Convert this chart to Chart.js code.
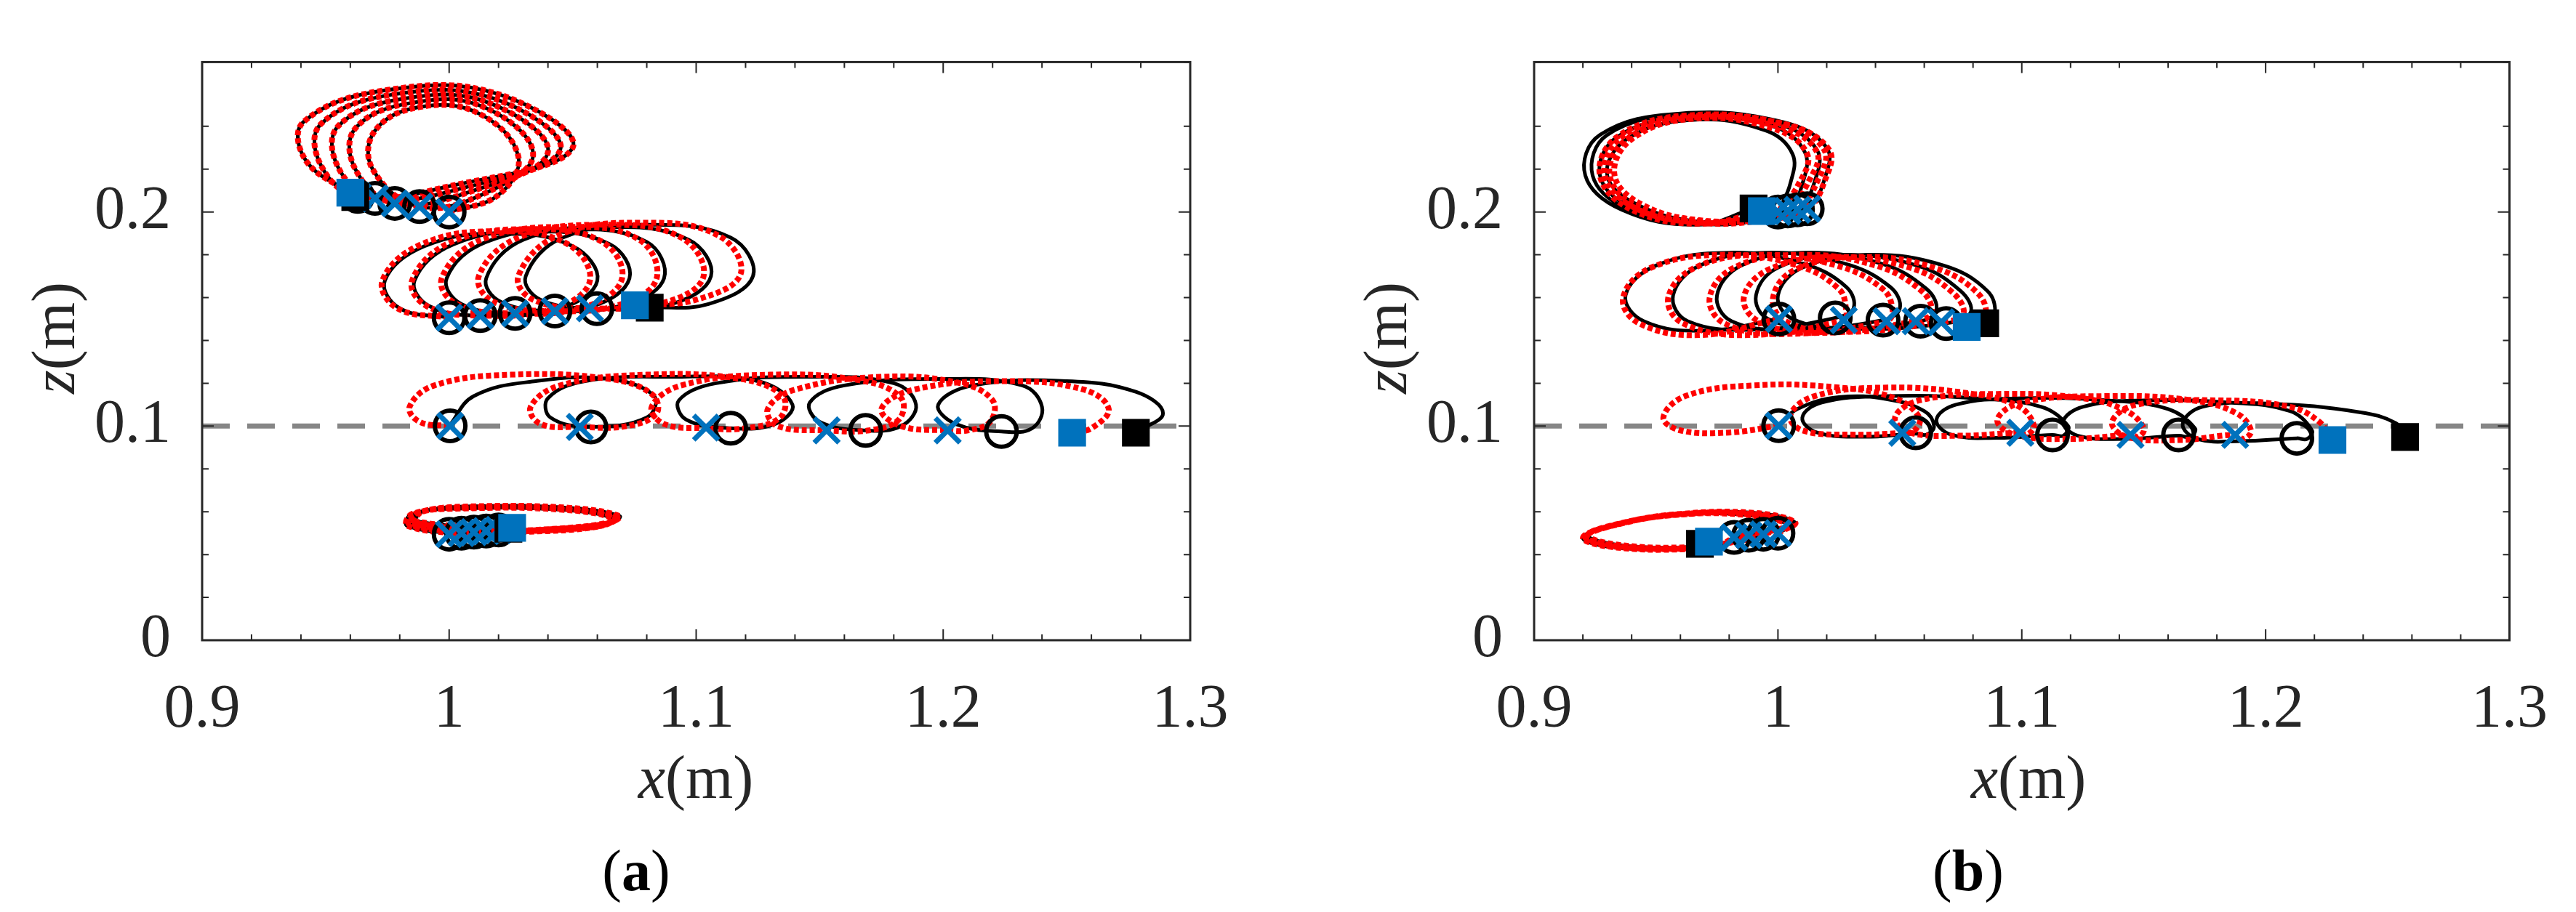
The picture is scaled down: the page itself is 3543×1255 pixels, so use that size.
<!DOCTYPE html>
<html>
<head>
<meta charset="utf-8">
<script src="https://cdn.jsdelivr.net/npm/chart.js@4.4.0/dist/chart.umd.min.js"></script>
<style>
body{margin:0;background:#fff;width:3543px;height:1255px;position:relative;overflow:hidden;font-family:"Liberation Serif","Times New Roman",serif;color:#262626}
.box{position:absolute;top:0;height:1255px}
.lbl{position:absolute;font-size:84px;line-height:1;white-space:nowrap;transform:translate(-50%,-50%)}
.rot{transform:translate(-50%,-50%) rotate(-90deg)}
.cap{color:#000;font-size:80px}
</style>
</head>
<body>
<div class="box" style="left:0;width:1771px"><canvas id="chartA"></canvas></div>
<div class="box" style="left:1771px;width:1772px"><canvas id="chartB"></canvas></div>
<div class="lbl" style="left:957px;top:1070px"><i>x</i>(m)</div>
<div class="lbl" style="left:2790px;top:1070px"><i>x</i>(m)</div>
<div class="lbl rot" style="left:74px;top:465px"><i>z</i>(m)</div>
<div class="lbl rot" style="left:1906px;top:465px"><i>z</i>(m)</div>
<div class="lbl cap" style="left:875px;top:1198px">(<b>a</b>)</div>
<div class="lbl cap" style="left:2707px;top:1198px">(<b>b</b>)</div>
<script>
// tick labels
var xTickLabels = [0.9, 1, 1.1, 1.2, 1.3];
var zTickLabels = [0, 0.1, 0.2];
var refLine = [[0.9, 0.1], [1.3, 0.1]];

// ---------- panel (a) ----------
var aTopBlack = [
  [1.000,0.200],[1.020,0.208],[1.028,0.226],[1.012,0.246],[0.988,0.249],[0.970,0.238],[0.969,0.220],
  [0.988,0.2025],[1.015,0.209],[1.034,0.227],[1.014,0.249],[0.985,0.251],[0.962,0.239],[0.962,0.220],
  [0.978,0.204],[1.010,0.210],[1.040,0.228],[1.016,0.251],[0.982,0.253],[0.955,0.240],[0.955,0.221],
  [0.970,0.2063],[1.005,0.211],[1.045,0.229],[1.018,0.253],[0.978,0.255],[0.948,0.241],[0.948,0.222],
  [0.963,0.2073],[1.000,0.212],[1.050,0.230],[1.020,0.255],[0.975,0.257],[0.941,0.242],[0.942,0.224],
  [0.961,0.208]
];
var aTopRed = aTopBlack;
var aTopCircles = [[1.000,0.200],[0.988,0.2025],[0.978,0.204],[0.970,0.2063],[0.963,0.2073]];
var aTopCrosses = [[1.000,0.200],[0.988,0.2025],[0.978,0.204],[0.970,0.2063],[0.963,0.2073]];
var aTopEnds = [[0.962,0.207],[0.960,0.209]];

var aMidBlack = [
  [1.000,0.1506],[0.980,0.155],[0.974,0.168],[0.990,0.184],[1.020,0.190],[1.050,0.184],[1.060,0.168],[1.045,0.155],
  [1.013,0.1516],[0.992,0.156],[0.986,0.168],[1.002,0.185],[1.035,0.191],[1.065,0.185],[1.073,0.169],[1.058,0.156],
  [1.027,0.1526],[1.005,0.157],[0.999,0.169],[1.015,0.186],[1.050,0.192],[1.080,0.186],[1.087,0.169],[1.072,0.157],
  [1.043,0.1537],[1.021,0.158],[1.015,0.169],[1.030,0.187],[1.065,0.193],[1.097,0.187],[1.106,0.170],[1.090,0.157],
  [1.060,0.1548],[1.037,0.159],[1.031,0.170],[1.046,0.188],[1.080,0.194],[1.114,0.188],[1.123,0.170],[1.105,0.157],
  [1.081,0.1553]
];
var aMidRed = [
  [1.000,0.1506],[0.979,0.155],[0.973,0.168],[0.989,0.185],[1.020,0.191],[1.048,0.185],[1.057,0.168],[1.043,0.155],
  [1.0126,0.1516],[0.991,0.156],[0.985,0.168],[1.001,0.186],[1.035,0.192],[1.062,0.186],[1.070,0.169],[1.056,0.156],
  [1.0267,0.1526],[1.003,0.157],[0.997,0.169],[1.013,0.187],[1.050,0.193],[1.077,0.187],[1.084,0.169],[1.070,0.157],
  [1.0428,0.1537],[1.018,0.158],[1.012,0.170],[1.028,0.188],[1.064,0.194],[1.094,0.188],[1.103,0.170],[1.088,0.158],
  [1.057,0.155],[1.034,0.159],[1.028,0.170],[1.044,0.189],[1.078,0.195],[1.109,0.189],[1.118,0.171],[1.100,0.159],
  [1.075,0.1564]
];
var aMidCircles = [[1.000,0.1506],[1.0126,0.1516],[1.0267,0.1526],[1.0428,0.1537],[1.0598,0.1548]];
var aMidCrosses = [[1.000,0.1506],[1.0126,0.1516],[1.0267,0.1526],[1.0428,0.1537],[1.057,0.155]];
var aMidEnds = [[1.0812,0.1553],[1.0752,0.1564]];

var aLowBlack = [
  [1.000,0.100],[1.010,0.114],[1.035,0.121],[1.065,0.122],[1.083,0.114],[1.080,0.104],
  [1.057,0.0996],[1.041,0.104],[1.040,0.113],[1.055,0.121],[1.090,0.123],[1.125,0.121],[1.139,0.110],[1.132,0.101],
  [1.114,0.099],[1.096,0.103],[1.093,0.112],[1.108,0.120],[1.145,0.123],[1.180,0.120],[1.189,0.110],[1.183,0.100],
  [1.1686,0.098],[1.150,0.102],[1.146,0.111],[1.160,0.119],[1.200,0.122],[1.232,0.119],[1.240,0.109],[1.236,0.099],
  [1.2236,0.0975],[1.205,0.101],[1.198,0.110],[1.212,0.119],[1.250,0.121],[1.278,0.116],[1.289,0.106],[1.278,0.097]
];
var aLowRed = [
  [1.000,0.100],[0.988,0.102],[0.984,0.109],[0.994,0.119],[1.025,0.124],[1.065,0.122],[1.082,0.115],[1.084,0.106],[1.072,0.100],
  [1.053,0.0996],[1.037,0.101],[1.033,0.109],[1.045,0.119],[1.080,0.124],[1.118,0.122],[1.135,0.114],[1.134,0.104],[1.120,0.099],
  [1.104,0.099],[1.087,0.101],[1.082,0.109],[1.094,0.119],[1.130,0.124],[1.168,0.121],[1.183,0.113],[1.182,0.103],[1.170,0.098],
  [1.153,0.098],[1.133,0.100],[1.129,0.108],[1.140,0.117],[1.175,0.123],[1.207,0.120],[1.220,0.112],[1.219,0.102],[1.210,0.098],
  [1.2018,0.098],[1.183,0.100],[1.175,0.108],[1.188,0.117],[1.225,0.121],[1.257,0.117],[1.267,0.108],[1.260,0.099],[1.252,0.097]
];
var aLowCircles = [[1.0004,0.1001],[1.0574,0.0996],[1.114,0.099],[1.1686,0.098],[1.2236,0.0975]];
var aLowCrosses = [[1.0004,0.1001],[1.0529,0.0996],[1.104,0.0993],[1.1528,0.098],[1.2018,0.098]];
var aLowEnds = [[1.278,0.0969],[1.2522,0.0969]];

var aBotBlack = [
  [1.000,0.0495],[1.030,0.0505],[1.060,0.053],[1.066,0.057],[1.045,0.061],[1.005,0.0615],[0.985,0.059],[0.983,0.0535],
  [1.005,0.050],[1.033,0.051],[1.062,0.0535],[1.067,0.0572],[1.046,0.0612],[1.006,0.0617],[0.986,0.0592],[0.984,0.054],
  [1.010,0.0505],[1.036,0.0513],[1.063,0.054],[1.068,0.0575],[1.047,0.0614],[1.007,0.062],[0.987,0.0595],[0.985,0.0545],
  [1.015,0.051],[1.039,0.0517],[1.064,0.0545],[1.068,0.0578],[1.048,0.0616],[1.008,0.0622],[0.988,0.0598],[0.986,0.055],
  [1.020,0.0515],[1.042,0.052],[1.065,0.055],[1.069,0.058],[1.049,0.0618],[1.009,0.0625],[0.989,0.060],[0.987,0.0555],
  [1.024,0.052]
];
var aBotRed = aBotBlack;
var aBotCircles = [[1.000,0.0495],[1.005,0.050],[1.010,0.0505],[1.015,0.051],[1.020,0.0515]];
var aBotCrosses = [[1.000,0.0495],[1.005,0.050],[1.010,0.0505],[1.015,0.051],[1.020,0.0515]];
var aBotEnds = [[1.024,0.052],[1.0255,0.0525]];

// ---------- panel (b) ----------
var bTopBlack = [
  [1.000,0.200],[1.005,0.213],[1.006,0.227],[0.995,0.238],[0.965,0.243],[0.938,0.234],[0.930,0.217],[0.943,0.203],[0.968,0.1955],[0.990,0.197],
  [1.004,0.2005],[1.010,0.213],[1.011,0.228],[0.998,0.240],[0.963,0.2445],[0.934,0.235],[0.927,0.217],[0.940,0.202],[0.968,0.195],[0.992,0.1965],
  [1.008,0.201],[1.015,0.214],[1.016,0.229],[1.000,0.241],[0.962,0.2455],[0.930,0.236],[0.924,0.217],[0.938,0.2015],[0.967,0.1945],[0.993,0.196],
  [1.012,0.2015],[1.019,0.215],[1.020,0.230],[1.002,0.242],[0.960,0.246],[0.927,0.236],[0.921,0.217],[0.936,0.201],[0.967,0.194],
  [0.990,0.2016]
];
var bTopRed = [
  [1.000,0.200],[1.008,0.212],[1.012,0.227],[0.998,0.239],[0.965,0.2435],[0.940,0.234],[0.933,0.217],[0.945,0.203],[0.969,0.196],[0.991,0.197],
  [1.004,0.2005],[1.012,0.213],[1.016,0.228],[1.000,0.240],[0.964,0.244],[0.938,0.234],[0.931,0.217],[0.943,0.202],[0.969,0.1955],[0.992,0.1965],
  [1.008,0.201],[1.016,0.214],[1.019,0.229],[1.002,0.241],[0.963,0.2445],[0.936,0.235],[0.929,0.217],[0.942,0.2015],[0.968,0.195],[0.993,0.196],
  [1.012,0.2015],[1.019,0.214],[1.021,0.229],[1.003,0.241],[0.962,0.245],[0.934,0.235],[0.927,0.217],[0.940,0.201],[0.968,0.1945],
  [0.994,0.2004]
];
var bTopCircles = [[1.000,0.200],[1.004,0.2005],[1.008,0.201],[1.012,0.2015]];
var bTopCrosses = [[1.000,0.200],[1.004,0.2005],[1.008,0.201],[1.012,0.2015]];
var bTopEnds = [[0.990,0.2016],[0.9934,0.2004]];

var bMidBlack = [
  [1.000,0.150],[0.970,0.1445],[0.945,0.149],[0.9375,0.161],[0.950,0.175],[0.980,0.181],[1.010,0.176],[1.028,0.165],[1.031,0.155],
  [1.0235,0.1505],[0.990,0.145],[0.963,0.149],[0.957,0.161],[0.968,0.175],[0.995,0.181],[1.027,0.176],[1.046,0.165],[1.050,0.155],
  [1.0431,0.1495],[1.005,0.145],[0.981,0.149],[0.975,0.161],[0.985,0.175],[1.010,0.181],[1.042,0.176],[1.061,0.164],[1.065,0.154],
  [1.0585,0.149],[1.020,0.1455],[0.996,0.150],[0.991,0.161],[1.000,0.174],[1.025,0.180],[1.057,0.175],[1.075,0.163],[1.079,0.153],
  [1.069,0.148],[1.030,0.1455],[1.006,0.150],[1.000,0.161],[1.010,0.174],[1.037,0.180],[1.068,0.175],[1.086,0.163],[1.089,0.152],
  [1.085,0.148]
];
var bMidRed = [
  [1.000,0.150],[0.968,0.1425],[0.943,0.148],[0.9365,0.160],[0.948,0.174],[0.978,0.180],[1.008,0.175],[1.025,0.164],[1.028,0.154],
  [1.027,0.1495],[0.988,0.1425],[0.961,0.148],[0.955,0.160],[0.966,0.174],[0.993,0.180],[1.024,0.175],[1.043,0.164],[1.047,0.154],
  [1.0445,0.149],[1.002,0.143],[0.978,0.148],[0.972,0.160],[0.982,0.174],[1.008,0.180],[1.040,0.175],[1.059,0.163],[1.063,0.153],
  [1.0565,0.149],[1.015,0.1435],[0.992,0.149],[0.986,0.160],[0.996,0.173],[1.022,0.179],[1.054,0.174],[1.072,0.162],[1.076,0.152],
  [1.067,0.1485],[1.025,0.144],[1.003,0.149],[0.998,0.160],[1.007,0.173],[1.034,0.179],[1.064,0.174],[1.082,0.162],[1.085,0.151],
  [1.0774,0.1463]
];
var bMidCircles = [[1.0004,0.150],[1.0235,0.1505],[1.0431,0.1495],[1.0585,0.149],[1.069,0.1479]];
var bMidCrosses = [[1.0004,0.150],[1.027,0.1495],[1.0445,0.149],[1.0565,0.149],[1.067,0.1485]];
var bMidEnds = [[1.085,0.148],[1.0774,0.1463]];

var bLowBlack = [
  [1.0003,0.1002],[1.008,0.108],[1.025,0.1135],[1.045,0.1125],[1.060,0.107],[1.064,0.100],[1.061,0.096],
  [1.0565,0.0965],[1.035,0.095],[1.016,0.097],[1.010,0.104],[1.018,0.111],[1.045,0.114],[1.080,0.113],[1.108,0.109],[1.119,0.100],[1.117,0.0955],
  [1.1126,0.0959],[1.090,0.0945],[1.071,0.096],[1.065,0.103],[1.073,0.110],[1.100,0.113],[1.135,0.112],[1.160,0.108],[1.171,0.099],[1.169,0.095],
  [1.1643,0.0955],[1.142,0.094],[1.123,0.0955],[1.117,0.102],[1.125,0.109],[1.150,0.112],[1.185,0.111],[1.210,0.107],[1.219,0.098],[1.217,0.094],
  [1.2128,0.0943],[1.190,0.093],[1.172,0.094],[1.166,0.101],[1.174,0.109],[1.201,0.1105],[1.2385,0.1065],[1.2535,0.1013],[1.2572,0.0949]
];
var bLowRed = [
  [1.0003,0.1002],[0.980,0.097],[0.960,0.098],[0.953,0.104],[0.962,0.114],[0.990,0.119],[1.025,0.118],[1.048,0.113],[1.058,0.104],[1.056,0.098],
  [1.051,0.0969],[1.030,0.096],[1.010,0.098],[1.005,0.105],[1.015,0.114],[1.045,0.118],[1.080,0.115],[1.099,0.109],[1.105,0.100],[1.102,0.096],
  [1.0994,0.0969],[1.075,0.0955],[1.054,0.097],[1.048,0.104],[1.058,0.112],[1.090,0.115],[1.125,0.113],[1.143,0.107],[1.150,0.099],[1.148,0.095],
  [1.1446,0.0959],[1.120,0.094],[1.097,0.096],[1.090,0.103],[1.100,0.111],[1.135,0.114],[1.170,0.112],[1.188,0.106],[1.194,0.098],[1.191,0.094],
  [1.1875,0.0959],[1.165,0.0935],[1.143,0.095],[1.137,0.102],[1.147,0.110],[1.180,0.112],[1.210,0.109],[1.222,0.102],[1.227,0.0937]
];
var bLowCircles = [[1.0003,0.1002],[1.0565,0.0969],[1.1126,0.0959],[1.1643,0.0959],[1.2128,0.0943]];
var bLowCrosses = [[1.0003,0.1002],[1.051,0.0969],[1.0994,0.0969],[1.1446,0.0959],[1.1875,0.0959]];
var bLowEnds = [[1.2572,0.0949],[1.2274,0.0935]];

var bBotBlack = [
  [1.000,0.050],[1.007,0.055],[0.990,0.0595],[0.960,0.059],[0.935,0.0545],[0.922,0.049],[0.935,0.0445],[0.965,0.0435],[0.985,0.0465],
  [0.994,0.0495],[1.006,0.0545],[0.989,0.059],[0.959,0.0588],[0.934,0.054],[0.921,0.0485],[0.934,0.044],[0.964,0.043],[0.982,0.046],
  [0.988,0.049],[1.005,0.054],[0.988,0.0588],[0.958,0.0586],[0.933,0.0538],[0.921,0.048],[0.933,0.0437],[0.963,0.0428],[0.978,0.0455],
  [0.982,0.048],[1.004,0.0535],[0.987,0.0585],[0.957,0.0584],[0.932,0.0535],[0.920,0.0478],[0.932,0.0435],[0.962,0.0425],
  [0.968,0.045]
];
var bBotRed = bBotBlack;
var bBotCircles = [[1.000,0.050],[0.994,0.0495],[0.988,0.049],[0.982,0.048]];
var bBotCrosses = [[1.000,0.050],[0.994,0.0495],[0.988,0.049],[0.982,0.048]];
var bBotEnds = [[0.968,0.045],[0.9717,0.046]];

var BLUE = '#0072BD';

function pts(arr) {
  return arr.map(function(p) { return {x: p[0], y: p[1]}; });
}

function group(black, red, circles, crosses, ends) {
  return [
    {data: pts(black), showLine: true, borderColor: '#000', borderWidth: 5, tension: 0.4, pointRadius: 0, order: 50},
    {data: pts(red), showLine: true, borderColor: '#FF0000', borderWidth: 8, borderDash: [7, 4], tension: 0.4, pointRadius: 0, order: 40},
    {data: pts(circles), pointStyle: 'circle', pointRadius: 21, pointBorderWidth: 6, borderColor: '#000', pointBorderColor: '#000', pointBackgroundColor: 'rgba(0,0,0,0)', order: 30},
    {data: pts(crosses), pointStyle: 'crossRot', pointRadius: 24, pointBorderWidth: 7, borderColor: BLUE, pointBorderColor: BLUE, order: 20},
    {data: pts([ends[0]]), pointStyle: 'rect', pointRadius: 27, pointBorderWidth: 0, pointBackgroundColor: '#000', order: 15},
    {data: pts([ends[1]]), pointStyle: 'rect', pointRadius: 27, pointBorderWidth: 0, pointBackgroundColor: BLUE, order: 10}
  ];
}

function dashed() {
  return {data: pts(refLine), showLine: true, borderColor: '#868686', borderWidth: 7, borderDash: [38, 24], pointRadius: 0, order: 100};
}

function labelFor(list) {
  return function(v) {
    for (var i = 0; i < list.length; i++) {
      if (Math.abs(v - list[i]) < 1e-6) return String(list[i]);
    }
    return '';
  };
}

function isMajor(v, list) {
  return list.some(function(l) { return Math.abs(v - l) < 1e-6; });
}

// box and inward ticks on all four sides
var boxTicks = {
  id: 'boxTicks',
  afterDatasetsDraw: function(chart) {
    var ctx = chart.ctx, a = chart.chartArea;
    var sx = chart.scales.x, sy = chart.scales.y;
    ctx.save();
    ctx.strokeStyle = '#262626';
    ctx.lineWidth = 2;
    ctx.beginPath();
    sx.ticks.forEach(function(t) {
      var p = sx.getPixelForValue(t.value);
      var len = isMajor(t.value, xTickLabels) ? 15 : 8;
      ctx.moveTo(p, a.bottom); ctx.lineTo(p, a.bottom - len);
      ctx.moveTo(p, a.top); ctx.lineTo(p, a.top + len);
    });
    sy.ticks.forEach(function(t) {
      var p = sy.getPixelForValue(t.value);
      var len = isMajor(t.value, zTickLabels) ? 16 : 9;
      ctx.moveTo(a.left, p); ctx.lineTo(a.left + len, p);
      ctx.moveTo(a.right, p); ctx.lineTo(a.right - len, p);
    });
    ctx.stroke();
    ctx.lineWidth = 3;
    ctx.strokeRect(a.left, a.top, a.right - a.left, a.bottom - a.top);
    ctx.restore();
  }
};

function makeOptions(yWidth, padRight) {
  return {
    responsive: true,
    maintainAspectRatio: false,
    animation: false,
    events: [],
    layout: {padding: {left: 0, right: padRight, top: 33, bottom: 0}},
    plugins: {legend: {display: false}, tooltip: {enabled: false}},
    scales: {
      x: {
        type: 'linear', min: 0.9, max: 1.3,
        grid: {display: false}, border: {display: false},
        ticks: {stepSize: 0.02, autoSkip: false, maxRotation: 0, padding: 39, color: '#262626',
                font: {size: 84, family: '"Liberation Serif", serif'}, callback: labelFor(xTickLabels)},
        afterFit: function(s) { s.height = 374; }
      },
      y: {
        type: 'linear', min: 0, max: 0.27,
        grid: {display: false}, border: {display: false},
        ticks: {stepSize: 0.02, autoSkip: false, padding: 35, color: '#262626',
                font: {size: 84, family: '"Liberation Serif", serif'}, callback: labelFor(zTickLabels)},
        afterFit: function(s) { s.width = yWidth; }
      }
    }
  };
}

var chartA = new Chart(document.getElementById('chartA'), {
  type: 'scatter',
  data: {
    datasets: [dashed()]
      .concat(group(aTopBlack, aTopRed, aTopCircles, aTopCrosses, aTopEnds))
      .concat(group(aMidBlack, aMidRed, aMidCircles, aMidCrosses, aMidEnds))
      .concat(group(aLowBlack, aLowRed, aLowCircles, aLowCrosses, aLowEnds))
      .concat(group(aBotBlack, aBotRed, aBotCircles, aBotCrosses, aBotEnds))
  },
  options: makeOptions(278, 134),
  plugins: [boxTicks]
});

var chartB = new Chart(document.getElementById('chartB'), {
  type: 'scatter',
  data: {
    datasets: [dashed()]
      .concat(group(bTopBlack, bTopRed, bTopCircles, bTopCrosses, bTopEnds))
      .concat(group(bMidBlack, bMidRed, bMidCircles, bMidCrosses, bMidEnds))
      .concat(group(bLowBlack, bLowRed, bLowCircles, bLowCrosses, bLowEnds))
      .concat(group(bBotBlack, bBotRed, bBotCircles, bBotCrosses, bBotEnds))
  },
  options: makeOptions(339, 74),
  plugins: [boxTicks]
});
</script>
</body>
</html>
